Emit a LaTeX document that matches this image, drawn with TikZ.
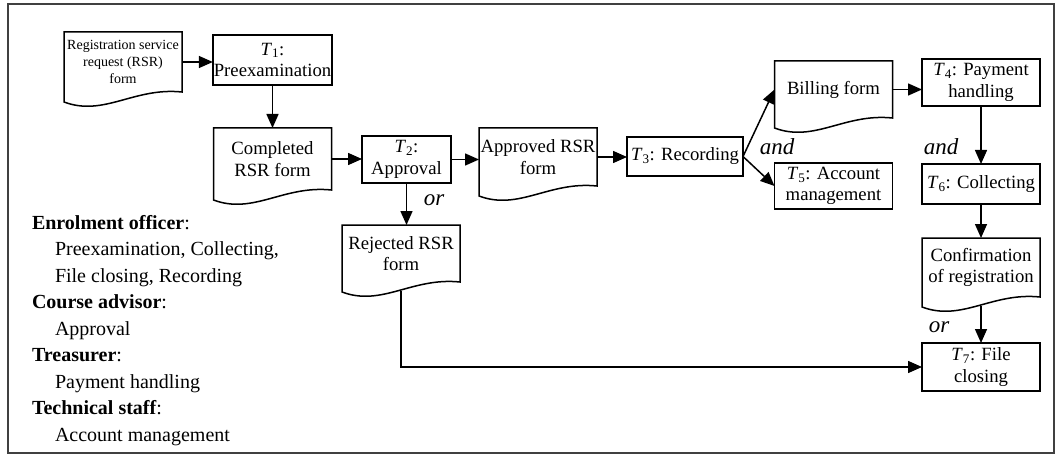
\documentclass[tikz,border=0pt]{standalone}
\usepackage{fontspec}
\setmainfont{Liberation Serif}
\usetikzlibrary{arrows.meta}
\tikzset{
    every node/.style={align=center,font=\fontsize{18.7}{21.5}\selectfont,inner sep=1pt,outer sep=0pt,},
    task/.style={draw,rectangle,line width=1.5pt,minimum width=118pt,},
    doc/.style={rectangle,minimum width=118pt,},
    flow/.style={-{Triangle[length=14pt,width=12pt]},line width=1.5pt,},
    cond/.style={font=\fontsize{23}{23}\selectfont\itshape,},
}
% document shape: wavy bottom, left corner lower than right one
\newcommand{\docoutline}[1]{%
    \draw[line width=1.5pt] ([yshift=-10pt]#1.south west) -- (#1.north west) -- (#1.north east)
        -- (#1.south east) .. controls +(-48pt,5pt) and +(40pt,-15pt) .. ([yshift=-10pt]#1.south west) -- cycle;}
\newcommand{\tsub}[1]{\textit{T}\textsubscript{#1}}

\begin{document}
\begin{tikzpicture}[x=1pt,y=-1pt]
                \useasboundingbox (0,0) rectangle (1056,457);
                \draw[line width=1.2pt,black!75] (8,4) rectangle (1054,453);

                \node[doc,font=\fontsize{14}{17}\selectfont,minimum height=60pt] (rsr) at (123,62) {Registration service\\request (RSR)\\form};
                \node[task,minimum width=119pt,minimum height=50pt] (t1) at (272.5,60) {\tsub{1}:\\Preexamination};
                \node[doc,minimum height=62pt] (completed) at (272.5,159) {Completed\\RSR form};
                \node[task,minimum width=89pt,minimum height=47pt] (t2) at (406.5,159.5) {\tsub{2}:\\Approval};
                \node[doc,minimum height=58pt] (approved) at (538,157) {Approved RSR\\form};
                \node[doc,minimum height=57pt] (rejected) at (401,253.5) {Rejected RSR\\form};
                \node[task,minimum width=116pt,minimum height=39pt] (t3) at (685,156.5) {\tsub{3}: Recording};

                \node[doc,minimum height=57pt] (billing) at (833.5,89.5) {Billing form};
                \node[task,minimum height=46pt] (t5) at (833.5,186) {\tsub{5}: Account\\management};
                \node[task,minimum height=47pt] (t4) at (981,82.5) {\tsub{4}: Payment\\handling};
                \node[task,minimum height=40pt] (t6) at (981,184) {\tsub{6}: Collecting};
                \node[doc,minimum height=59pt] (conf) at (981,267.5) {Confirmation\\of registration};
                \node[task,minimum height=48pt] (t7) at (981,367) {\tsub{7}: File\\closing};

                \docoutline{rsr}
                \docoutline{completed}
                \docoutline{approved}
                \docoutline{rejected}
                \docoutline{billing}
                \docoutline{conf}

                \node[cond] (or1) at (434,200) {or};
                \node[cond] (and1) at (777,147) {and};
                \node[cond] (and2) at (941,147) {and};
                \node[cond] (or2) at (939,327) {or};

                \draw[flow] (rsr.east) -- (rsr.east -| t1.west);
                \draw[flow] (t1.south) -- (completed.north);
                \draw[flow] (completed.east) -- (completed.east -| t2.west);
                \draw[flow] (t2.east) -- (t2.east -| approved.west);
                \draw[flow] (t2.south) -- (t2.south |- rejected.north);
                \draw[flow] (approved.east) -- (approved.east -| t3.west);
                \draw[flow] (t3.east) -- (billing.west);
                \draw[flow] (t3.east) -- (t5.west);
                \draw[flow] (billing.east) -- (billing.east -| t4.west);
                \draw[flow] (t4.south) -- (t6.north);
                \draw[flow] (t6.south) -- (conf.north);
                \draw[flow] ([yshift=-9pt]conf.south) -- (t7.north);
                \draw[flow] ([yshift=-9pt]rejected.south) |- (t7.west);

                \node[anchor=north west,align=left,inner sep=0pt,font=\fontsize{20}{26.5}\selectfont] (roles) at (32,215)
                    {\textbf{Enrolment officer}:\\
                    \hspace*{23pt}Preexamination, Collecting,\\
                    \hspace*{23pt}File closing, Recording\\
                    \textbf{Course advisor}:\\
                    \hspace*{23pt}Approval\\
                    \textbf{Treasurer}:\\
                    \hspace*{23pt}Payment handling\\
                    \textbf{Technical staff}:\\
                    \hspace*{23pt}Account management};
            \end{tikzpicture}
\end{document}
